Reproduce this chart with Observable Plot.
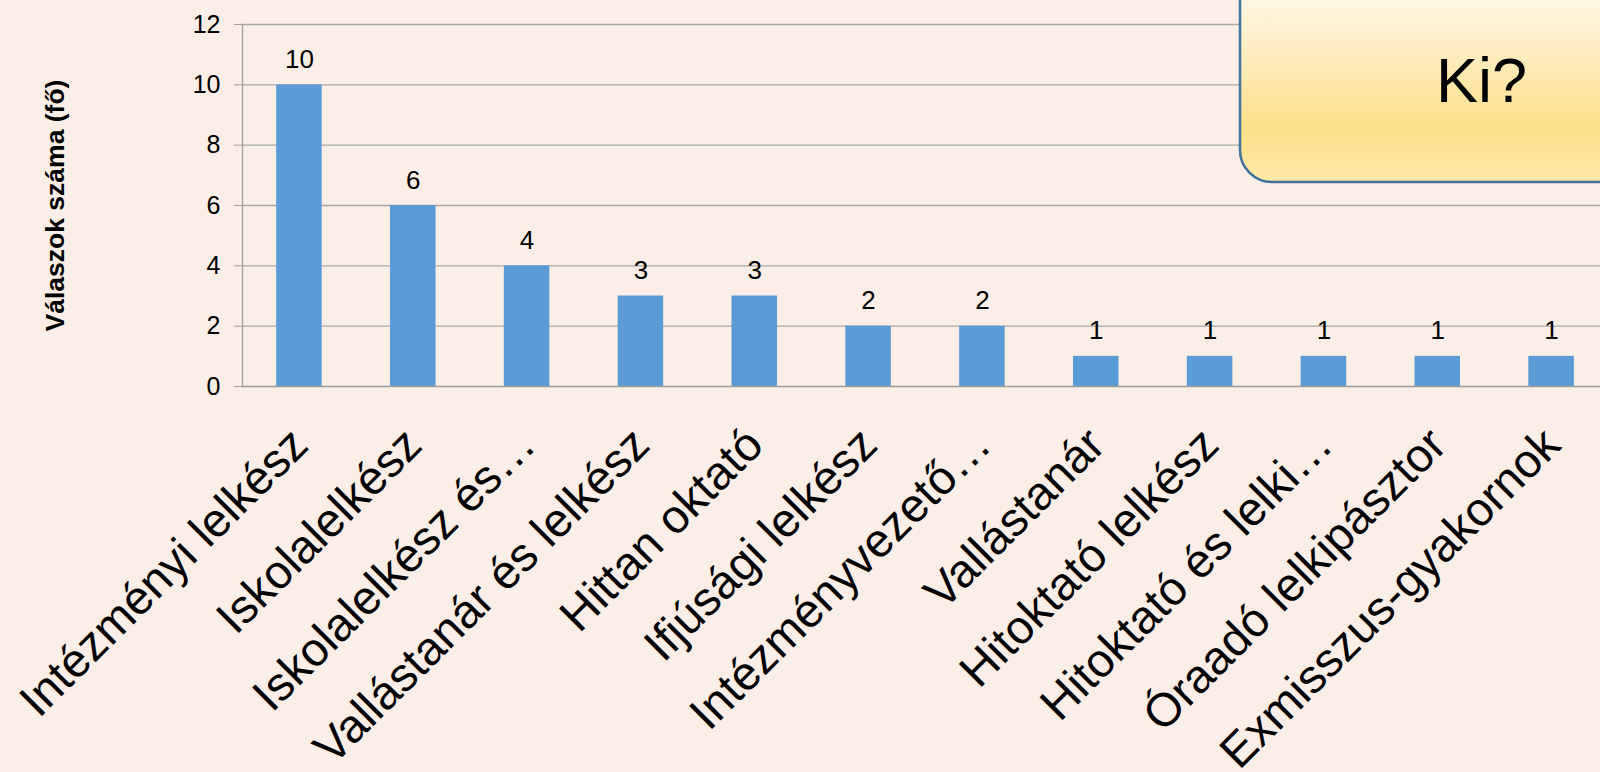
<!DOCTYPE html>
<html>
<head>
<meta charset="utf-8">
<script src="https://cdn.jsdelivr.net/npm/d3@7"></script>
<script src="https://cdn.jsdelivr.net/npm/@observablehq/plot@0.6"></script>
<style>
  html, body { margin: 0; padding: 0; background: #FBEEE6; overflow: hidden; }
  #wrap { position: relative; width: 1600px; height: 772px; overflow: hidden; }
  #overlay { position: absolute; left: 0; top: 0; pointer-events: none; }
</style>
</head>
<body>
<div id="wrap"></div>
<script>
const categories = ["Intézményi lelkész", "Iskolalelkész", "Iskolalelkész és…", "Vallástanár és lelkész", "Hittan oktató", "Ifjúsági lelkész", "Intézményvezető…", "Vallástanár", "Hitoktató lelkész", "Hitoktató és lelki…", "Óraadó lelkipásztor", "Exmisszus-gyakornok"];
const counts = [10, 6, 4, 3, 3, 2, 2, 1, 1, 1, 1, 1];
const yTicks = [0, 2, 4, 6, 8, 10, 12];
const yLabel = "Válaszok száma (fő)";
const boxTitle = "Ki?";

const data = categories.map((c, i) => ({cat: c, n: counts[i]}));
const font = "'Liberation Sans', Arial, sans-serif";

const chart = Plot.plot({
  width: 1608,
  height: 772,
  marginLeft: 242,
  marginRight: 0,
  marginTop: 24,
  marginBottom: 386,
  style: {background: "transparent", fontFamily: font, color: "#000", maxWidth: "none", overflow: "hidden"},
  x: {domain: categories, paddingInner: 0.6, paddingOuter: 0.3, round: false, axis: null},
  y: {domain: [0, 12], axis: null},
  marks: [
    Plot.ruleY(yTicks.filter(d => d > 0), {stroke: "#A8A8A8", strokeWidth: 1.3}),
    Plot.barY(data, {x: "cat", y: "n", fill: "#5B9BD5"}),
    Plot.ruleY([0], {stroke: "#9C9C9C", strokeWidth: 1.5}),
    Plot.axisY({ticks: yTicks, tickSize: 8, tickPadding: 14, fontSize: 25, stroke: "#A0A0A0", fill: "#000", label: null}),
    Plot.frame({anchor: "left", stroke: "#A0A0A0", strokeWidth: 1.3}),
    Plot.text(data, {x: "cat", y: "n", text: d => String(d.n), dy: -17, lineAnchor: "bottom", fontSize: 26, fill: "#000"}),
    Plot.text(data, {x: "cat", frameAnchor: "bottom", text: "cat", rotate: -45, textAnchor: "end", lineAnchor: "bottom", dx: 11, dy: 61, fontSize: 47, fill: "#000"}),
    Plot.text([yLabel], {frameAnchor: "left", dx: -187, rotate: -90, textAnchor: "middle", fontWeight: "bold", fontSize: 26.5, lineAnchor: "middle", fill: "#000"})
  ]
});
document.getElementById("wrap").appendChild(chart);

// decorative title box
const svg = d3.select("#wrap").append("svg")
  .attr("id", "overlay").attr("width", 1600).attr("height", 772);
const grad = svg.append("defs").append("linearGradient")
  .attr("id", "boxgrad").attr("x1", 0).attr("y1", 0).attr("x2", 0).attr("y2", 1);
[[0, "#FFFBF2"], [0.18, "#FFF7E4"], [0.4, "#FEEDC2"], [0.76, "#FDE08A"], [1, "#FEE9A8"]]
  .forEach(([o, c]) => grad.append("stop").attr("offset", o).attr("stop-color", c));
svg.append("rect")
  .attr("x", 1240).attr("y", -40).attr("width", 420).attr("height", 222)
  .attr("rx", 32).attr("ry", 32)
  .attr("fill", "url(#boxgrad)").attr("stroke", "#41719C").attr("stroke-width", 2.5);
svg.append("text")
  .attr("x", 1436).attr("y", 102)
  .attr("font-family", font).attr("font-size", 63).attr("fill", "#000")
  .text(boxTitle);
</script>
</body>
</html>
